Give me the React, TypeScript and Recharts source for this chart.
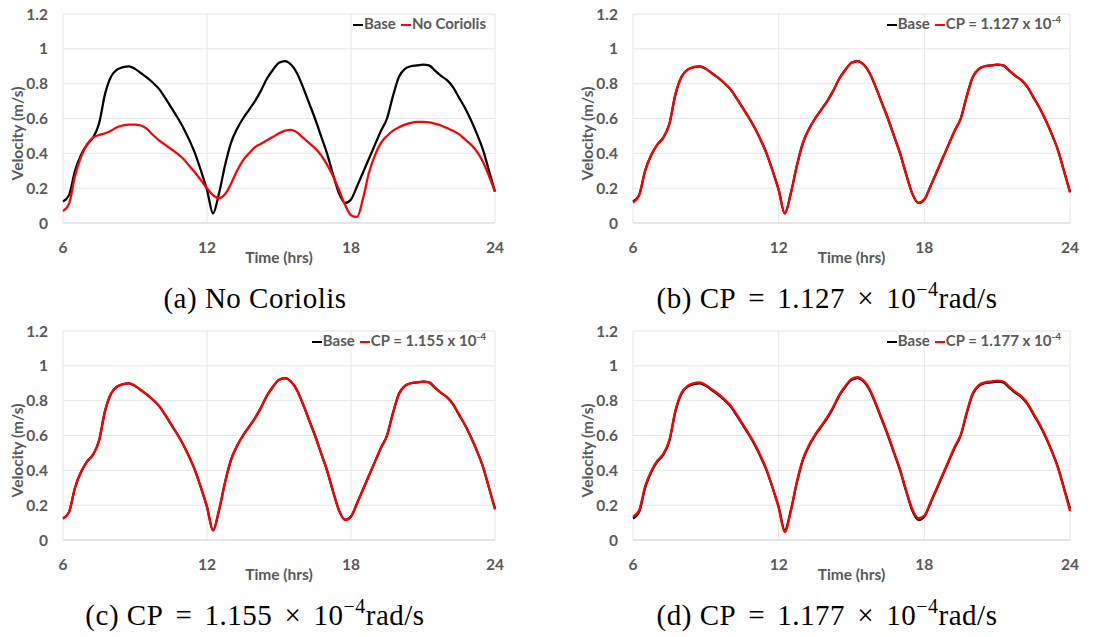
import { CartesianGrid, Legend, Line, LineChart, XAxis, YAxis } from "recharts";

// hours of the day, sampled every 15 minutes
const TIME = [
  6, 6.25, 6.5, 6.75, 7, 7.25, 7.5, 7.75, 8, 8.25, 8.5, 8.75, 9, 9.25, 9.5, 9.75,
  10, 10.25, 10.5, 10.75, 11, 11.25, 11.5, 11.75, 12, 12.25, 12.5, 12.75, 13, 13.25,
  13.5, 13.75, 14, 14.25, 14.5, 14.75, 15, 15.25, 15.5, 15.75, 16, 16.25, 16.5, 16.75,
  17, 17.25, 17.5, 17.75, 18, 18.25, 18.5, 18.75, 19, 19.25, 19.5, 19.75, 20, 20.25,
  20.5, 20.75, 21, 21.25, 21.5, 21.75, 22, 22.25, 22.5, 22.75, 23, 23.25, 23.5, 23.75, 24,
];

// velocity (m/s)
const BASE = [
  0.123, 0.16, 0.3, 0.39, 0.45, 0.49, 0.57, 0.74, 0.84, 0.88, 0.895, 0.9, 0.885, 0.86, 0.835, 0.805,
  0.77, 0.72, 0.665, 0.61, 0.55, 0.48, 0.4, 0.3, 0.19, 0.055, 0.17, 0.33, 0.46, 0.54,
  0.6, 0.65, 0.7, 0.76, 0.83, 0.88, 0.92, 0.93, 0.91, 0.86, 0.78, 0.69, 0.6, 0.5,
  0.4, 0.28, 0.17, 0.115, 0.135, 0.21, 0.29, 0.37, 0.45, 0.53, 0.6, 0.73, 0.84, 0.885,
  0.9, 0.905, 0.91, 0.905, 0.875, 0.845, 0.82, 0.78, 0.72, 0.66, 0.59, 0.51, 0.42, 0.3, 0.18,
];

const NO_CORIOLIS = [
  0.068, 0.11, 0.27, 0.38, 0.45, 0.49, 0.505, 0.515, 0.53, 0.55, 0.56, 0.565, 0.565, 0.56, 0.54, 0.505,
  0.475, 0.45, 0.425, 0.4, 0.37, 0.33, 0.29, 0.245, 0.2, 0.16, 0.143, 0.165, 0.225, 0.3,
  0.36, 0.4, 0.435, 0.455, 0.475, 0.495, 0.515, 0.53, 0.535, 0.52, 0.49, 0.46, 0.43, 0.39,
  0.335, 0.27, 0.19, 0.105, 0.045, 0.035, 0.14, 0.29, 0.39, 0.46, 0.5, 0.53, 0.55, 0.565,
  0.575, 0.58, 0.58, 0.578, 0.57, 0.56, 0.545, 0.53, 0.51, 0.48, 0.45, 0.41, 0.35, 0.27, 0.18,
];

const CP_1127 = [
  0.117, 0.158, 0.3, 0.39, 0.45, 0.49, 0.57, 0.74, 0.84, 0.88, 0.895, 0.9, 0.885, 0.86, 0.835, 0.805,
  0.77, 0.72, 0.665, 0.61, 0.55, 0.48, 0.4, 0.3, 0.19, 0.055, 0.17, 0.33, 0.46, 0.54,
  0.6, 0.65, 0.7, 0.76, 0.83, 0.88, 0.92, 0.93, 0.91, 0.86, 0.78, 0.69, 0.6, 0.5,
  0.4, 0.28, 0.17, 0.115, 0.135, 0.21, 0.29, 0.37, 0.45, 0.53, 0.6, 0.73, 0.84, 0.885,
  0.9, 0.905, 0.91, 0.905, 0.875, 0.845, 0.82, 0.78, 0.72, 0.66, 0.59, 0.51, 0.42, 0.3, 0.175,
];

const CP_1155 = [
  0.123, 0.16, 0.3, 0.39, 0.45, 0.49, 0.57, 0.74, 0.84, 0.88, 0.895, 0.9, 0.885, 0.86, 0.835, 0.805,
  0.77, 0.72, 0.665, 0.61, 0.55, 0.48, 0.4, 0.3, 0.19, 0.055, 0.17, 0.33, 0.46, 0.54,
  0.6, 0.65, 0.7, 0.76, 0.83, 0.88, 0.92, 0.93, 0.91, 0.86, 0.78, 0.69, 0.6, 0.5,
  0.4, 0.28, 0.17, 0.115, 0.135, 0.21, 0.29, 0.37, 0.45, 0.53, 0.6, 0.73, 0.84, 0.885,
  0.9, 0.905, 0.91, 0.905, 0.875, 0.845, 0.82, 0.78, 0.72, 0.66, 0.59, 0.51, 0.42, 0.3, 0.175,
];

const CP_1177 = [
  0.135, 0.17, 0.31, 0.395, 0.455, 0.495, 0.575, 0.745, 0.845, 0.885, 0.9, 0.905, 0.89, 0.865, 0.84, 0.81,
  0.775, 0.725, 0.67, 0.615, 0.555, 0.485, 0.405, 0.3, 0.185, 0.045, 0.165, 0.335, 0.465, 0.545,
  0.605, 0.655, 0.705, 0.765, 0.835, 0.885, 0.925, 0.935, 0.915, 0.865, 0.785, 0.695, 0.605, 0.505,
  0.405, 0.285, 0.18, 0.125, 0.14, 0.215, 0.295, 0.375, 0.455, 0.535, 0.605, 0.735, 0.845, 0.89,
  0.905, 0.91, 0.915, 0.91, 0.88, 0.85, 0.825, 0.785, 0.725, 0.665, 0.595, 0.51, 0.415, 0.295, 0.165,
];

const X_TICKS = [6, 12, 18, 24];
const Y_TICKS = [0, 0.2, 0.4, 0.6, 0.8, 1, 1.2];

const AXIS_FONT = "Lato, 'Open Sans', sans-serif";
const AXIS_GREY = "#595959";
const AXIS_SIZE = 15.5;

const PANELS = [
  { id: "a", x: 0, y: 0, plotLeft: 63, plotRight: 495, altName: "No Coriolis", alt: NO_CORIOLIS, cp: null },
  { id: "b", x: 570, y: 0, plotLeft: 633, plotRight: 1070, altName: "CP = 1.127 x 10^-4", alt: CP_1127, cp: "1.127" },
  { id: "c", x: 0, y: 317, plotLeft: 63, plotRight: 495, altName: "CP = 1.155 x 10^-4", alt: CP_1155, cp: "1.155" },
  { id: "d", x: 570, y: 317, plotLeft: 633, plotRight: 1070, altName: "CP = 1.177 x 10^-4", alt: CP_1177, cp: "1.177" },
];

const CHART_W = 520;
const CHART_H = 280;
const Y_AXIS_W = 50;

function withPower(text: string) {
  const [head, exp] = String(text).split("^");
  if (!exp) return head;
  return (
    <>
      {head}
      <span style={{ fontSize: 10, position: "relative", top: -6 }}>{exp}</span>
    </>
  );
}

function LegendContent({ payload }: any) {
  return (
    <div
      style={{
        display: "flex",
        gap: 5,
        whiteSpace: "nowrap",
        fontFamily: AXIS_FONT,
        fontWeight: 700,
        fontSize: 15,
        color: AXIS_GREY,
        lineHeight: "16px",
      }}
    >
      {(payload ?? []).map((entry: any) => (
        <span key={entry.value}>
          <span
            style={{
              display: "inline-block",
              width: 10,
              height: 2,
              background: entry.color,
              verticalAlign: "middle",
              marginRight: 1,
            }}
          />
          {withPower(entry.value)}
        </span>
      ))}
    </div>
  );
}

// Excel put the y title a little below the middle of the plot
function YTitle({ viewBox }: any) {
  const x = viewBox.x + 4;
  const y = viewBox.y + viewBox.height / 2 + 15;
  return (
    <text
      x={x}
      y={y}
      transform={`rotate(-90, ${x}, ${y})`}
      textAnchor="middle"
      dominantBaseline="central"
      fill={AXIS_GREY}
      fontSize={AXIS_SIZE}
      fontWeight={700}
      fontFamily={AXIS_FONT}
    >
      Velocity (m/s)
    </text>
  );
}

function Panel({ panel }: { panel: (typeof PANELS)[number] }) {
  const data = TIME.map((t, i) => ({ t, base: BASE[i], alt: panel.alt[i] }));
  const marginLeft = panel.plotLeft - panel.x - Y_AXIS_W;
  const marginRight = CHART_W - (panel.plotRight - panel.x);
  const tick = { fill: AXIS_GREY, fontSize: AXIS_SIZE, fontWeight: 700, fontFamily: AXIS_FONT };

  return (
    <div style={{ position: "absolute", left: panel.x, top: panel.y }}>
      <LineChart
        width={CHART_W}
        height={CHART_H}
        data={data}
        margin={{ top: 14, right: marginRight, bottom: 15, left: marginLeft }}
      >
        <CartesianGrid stroke="#e6e6e6" strokeWidth={1} />
        <XAxis
          dataKey="t"
          type="number"
          domain={[6, 24]}
          ticks={X_TICKS}
          axisLine={{ stroke: "#d9d9d9" }}
          tickLine={false}
          tickSize={0}
          tickMargin={19}
          height={42}
          tick={tick}
          label={{ value: "Time (hrs)", position: "insideBottom", offset: 2, style: tick }}
        />
        <YAxis
          type="number"
          domain={[0, 1.2]}
          ticks={Y_TICKS}
          width={Y_AXIS_W}
          axisLine={false}
          tickLine={false}
          tickSize={0}
          tickMargin={15}
          tick={tick}
          label={<YTitle />}
        />
        <Legend
          layout="horizontal"
          align="center"
          verticalAlign="middle"
          content={LegendContent}
          wrapperStyle={{ top: 15, right: marginRight + 9, left: "auto", width: "auto" }}
        />
        <Line
          type="monotone"
          dataKey="base"
          name="Base"
          stroke="#000000"
          strokeWidth={2.25}
          dot={false}
          isAnimationActive={false}
        />
        <Line
          type="monotone"
          dataKey="alt"
          name={panel.altName}
          stroke="#ff0000"
          strokeWidth={2.25}
          dot={false}
          isAnimationActive={false}
        />
      </LineChart>
    </div>
  );
}

function Caption({ panel }: { panel: (typeof PANELS)[number] }) {
  const centre = panel.x === 0 ? 255 : 827;
  const op = { margin: "0 0.42em" };
  return (
    <div
      style={{
        position: "absolute",
        left: centre - 250,
        width: 500,
        top: panel.y + 284,
        textAlign: "center",
        fontFamily: "'Liberation Serif', 'Times New Roman', serif",
        fontSize: 29,
        lineHeight: 1,
        letterSpacing: 0.5,
        color: "#000",
        whiteSpace: "nowrap",
      }}
    >
      ({panel.id}){" "}
      {panel.cp === null ? (
        "No Coriolis"
      ) : (
        <>
          CP<span style={op}>=</span>
          {panel.cp}
          <span style={op}>×</span>10
          <span style={{ fontSize: 20, position: "relative", top: -12 }}>−4</span>rad/s
        </>
      )}
    </div>
  );
}

export default function App() {
  return (
    <div
      style={{
        position: "absolute",
        left: 0,
        top: 0,
        width: 1094,
        height: 637,
        background: "#ffffff",
        overflow: "hidden",
      }}
    >
      {PANELS.map((p) => (
        <Panel key={p.id} panel={p} />
      ))}
      {PANELS.map((p) => (
        <Caption key={`cap-${p.id}`} panel={p} />
      ))}
    </div>
  );
}
